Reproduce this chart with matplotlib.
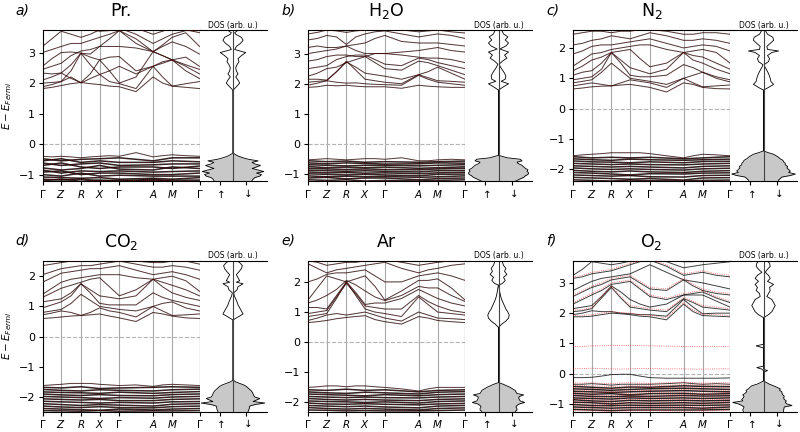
import numpy as np
import matplotlib
matplotlib.use('Agg')
import matplotlib.pyplot as plt

# k-path (high symmetry points) and finer sampling used for the upper bands
KPATH = [0.0, 0.56, 1.15, 1.71, 2.30, 3.31, 3.88, 4.70]
KLABELS = [r'$\Gamma$', '$Z$', '$R$', '$X$', r'$\Gamma$', '$A$', '$M$', r'$\Gamma$']
KFINE = [0.0, 0.28, 0.56, 0.855, 1.15, 1.43, 1.71, 2.005, 2.30, 2.80, 3.31, 3.595, 3.88, 4.29, 4.70]

# ---------------- a) Pr.
a_upper = [
    [1.82, 1.86, 1.92, 1.98, 2.02, 1.98, 1.95, 1.90, 1.88, 1.72, 2.20, 2.00, 1.90, 1.86, 1.82],
    [1.88, 1.95, 2.05, 2.40, 2.98, 2.60, 2.28, 2.05, 1.98, 1.82, 2.55, 2.20, 1.90, 1.98, 2.05],
    [2.00, 2.02, 2.05, 2.20, 2.00, 2.15, 2.28, 2.40, 2.55, 2.30, 2.55, 2.70, 2.76, 2.40, 2.15],
    [2.10, 2.20, 2.33, 2.15, 2.02, 2.30, 2.76, 2.85, 2.87, 2.40, 2.55, 2.65, 2.76, 2.55, 2.30],
    [2.33, 2.30, 2.33, 2.60, 2.98, 2.85, 2.76, 2.40, 2.00, 2.20, 3.03, 2.90, 2.76, 2.60, 2.45],
    [2.45, 2.55, 2.65, 2.90, 3.05, 3.10, 3.20, 3.45, 3.72, 3.30, 3.03, 2.90, 2.76, 2.85, 2.55],
    [2.55, 2.80, 3.00, 3.02, 2.98, 2.95, 3.20, 3.20, 3.20, 3.15, 3.03, 3.20, 3.35, 3.20, 2.95],
    [3.00, 3.10, 3.20, 3.30, 3.30, 3.40, 3.50, 3.60, 3.72, 3.45, 3.03, 3.25, 3.50, 3.65, 3.20],
    [3.20, 3.45, 3.70, 3.60, 3.50, 3.60, 3.75, 3.80, 3.80, 3.60, 3.30, 3.45, 3.60, 3.72, 3.72],
    [3.72, 3.75, 3.80, 3.80, 3.78, 3.75, 3.70, 3.72, 3.80, 3.80, 3.60, 3.70, 3.80, 3.75, 3.65],
    [-0.40, -0.42, -0.40, -0.42, -0.45, -0.42, -0.40, -0.38, -0.40, -0.28, -0.42, -0.38, -0.35, -0.38, -0.40],
]
a_lower = [
    [-0.48, -0.55, -0.50, -0.48, -0.45, -0.55, -0.45, -0.45],
    [-0.55, -0.48, -0.60, -0.55, -0.60, -0.60, -0.55, -0.58],
    [-0.62, -0.70, -0.65, -0.62, -0.70, -0.68, -0.65, -0.65],
    [-0.70, -0.62, -0.75, -0.80, -0.75, -0.75, -0.80, -0.72],
    [-0.78, -0.85, -0.80, -0.70, -0.82, -0.85, -0.75, -0.80],
    [-0.85, -0.95, -0.88, -0.90, -0.88, -0.92, -0.90, -0.88],
    [-0.92, -0.88, -1.00, -0.95, -0.95, -1.00, -1.00, -0.95],
    [-1.00, -1.05, -0.95, -1.05, -1.02, -1.05, -1.05, -1.05],
    [-1.08, -1.10, -1.12, -1.10, -1.15, -1.12, -1.15, -1.10],
    [-1.15, -1.18, -1.15, -1.20, -1.18, -1.20, -1.18, -1.18],
    [-1.20, -1.15, -1.22, -1.18, -1.22, -1.15, -1.22, -1.22],
]
a_dos_e = [-1.22, -1.15, -1.10, -1.05, -1.00, -0.95, -0.90, -0.85, -0.80, -0.75, -0.70, -0.65, -0.60, -0.55,
           -0.50, -0.45, -0.40, -0.35, -0.29, 1.74, 1.80, 1.90, 2.00, 2.10, 2.20, 2.30, 2.40, 2.50, 2.60, 2.70,
           2.80, 2.90, 3.00, 3.10, 3.20, 3.30, 3.40, 3.50, 3.60, 3.65, 3.73]
a_dos = [0.55, 0.60, 0.65, 0.80, 0.85, 0.70, 0.92, 0.75, 0.57, 0.70, 0.82, 0.65, 0.57, 0.75,
         0.47, 0.30, 0.17, 0.08, 0.0, 0.0, 0.03, 0.12, 0.20, 0.15, 0.08, 0.15, 0.10, 0.08, 0.12, 0.18,
         0.15, 0.25, 0.38, 0.05, 0.10, 0.22, 0.30, 0.25, 0.08, 0.05, 0.15]

# ---------------- b) H2O
b_upper = [
    [1.88, 1.90, 1.95, 1.93, 1.95, 1.92, 1.90, 1.90, 1.90, 1.85, 1.95, 1.92, 1.90, 1.88, 1.88],
    [1.95, 2.02, 2.10, 2.05, 2.02, 2.03, 2.00, 1.98, 1.97, 1.95, 2.28, 2.15, 2.05, 2.00, 1.95],
    [2.05, 2.08, 2.10, 2.40, 2.75, 2.45, 2.15, 2.10, 2.05, 2.00, 2.30, 2.20, 2.10, 2.08, 2.05],
    [2.15, 2.15, 2.12, 2.40, 2.72, 2.55, 2.35, 2.30, 2.25, 2.15, 2.30, 2.40, 2.55, 2.35, 2.15],
    [2.25, 2.35, 2.50, 2.55, 2.70, 2.80, 2.90, 2.70, 2.50, 2.45, 2.75, 2.70, 2.60, 2.45, 2.30],
    [2.50, 2.55, 2.60, 2.80, 2.90, 2.95, 2.95, 2.80, 2.65, 2.60, 2.85, 2.80, 2.70, 2.60, 2.50],
    [2.75, 2.80, 2.90, 2.95, 2.95, 2.90, 2.90, 3.00, 3.00, 2.95, 2.88, 2.85, 2.85, 2.80, 2.70],
    [3.00, 3.05, 3.10, 3.15, 3.25, 3.10, 3.00, 3.00, 3.00, 3.05, 3.10, 3.15, 3.20, 3.10, 3.05],
    [3.20, 3.25, 3.20, 3.20, 3.25, 3.30, 3.35, 3.50, 3.60, 3.40, 3.35, 3.35, 3.35, 3.30, 3.25],
    [3.45, 3.50, 3.60, 3.55, 3.30, 3.55, 3.65, 3.72, 3.75, 3.65, 3.55, 3.60, 3.65, 3.60, 3.50],
    [3.65, 3.70, 3.78, 3.75, 3.70, 3.75, 3.78, 3.80, 3.80, 3.78, 3.72, 3.75, 3.78, 3.72, 3.68],
    [-0.52, -0.50, -0.48, -0.50, -0.52, -0.50, -0.48, -0.48, -0.50, -0.45, -0.55, -0.55, -0.52, -0.50, -0.52],
]
b_lower = [
    [-0.55, -0.58, -0.56, -0.60, -0.58, -0.60, -0.58, -0.56],
    [-0.62, -0.65, -0.62, -0.64, -0.66, -0.65, -0.62, -0.63],
    [-0.68, -0.70, -0.72, -0.70, -0.70, -0.72, -0.70, -0.68],
    [-0.74, -0.78, -0.76, -0.78, -0.76, -0.80, -0.78, -0.75],
    [-0.80, -0.82, -0.84, -0.82, -0.84, -0.85, -0.82, -0.80],
    [-0.86, -0.88, -0.90, -0.88, -0.90, -0.92, -0.88, -0.87],
    [-0.92, -0.95, -0.94, -0.96, -0.95, -0.98, -0.95, -0.93],
    [-0.98, -1.00, -1.02, -1.00, -1.02, -1.05, -1.00, -0.99],
    [-1.05, -1.08, -1.06, -1.08, -1.07, -1.10, -1.08, -1.05],
    [-1.12, -1.10, -1.15, -1.12, -1.12, -1.18, -1.14, -1.12],
    [-1.18, -1.20, -1.18, -1.22, -1.20, -1.22, -1.20, -1.18],
]
b_dos_e = [-1.23, -1.15, -1.10, -1.05, -1.00, -0.95, -0.90, -0.85, -0.80, -0.75, -0.70, -0.65, -0.60, -0.55,
           -0.50, -0.45, -0.40, -0.37, 1.79, 1.90, 2.00, 2.08, 2.15, 2.25, 2.35, 2.45, 2.55, 2.65, 2.75,
           2.85, 2.95, 3.05, 3.15, 3.25, 3.35, 3.45, 3.55, 3.65, 3.77]
b_dos = [0.50, 0.65, 0.75, 0.80, 0.88, 0.90, 0.85, 0.88, 0.80, 0.75, 0.70, 0.60, 0.55, 0.70,
         0.65, 0.25, 0.10, 0.0, 0.0, 0.15, 0.30, 0.08, 0.20, 0.22, 0.18, 0.12, 0.06, 0.02, 0.12,
         0.25, 0.18, 0.30, 0.04, 0.22, 0.30, 0.20, 0.28, 0.15, 0.10]

# ---------------- c) N2
c_upper = [
    [0.65, 0.68, 0.72, 0.74, 0.75, 0.78, 0.80, 0.75, 0.70, 0.55, 0.85, 0.80, 0.70, 0.66, 0.65],
    [0.75, 0.80, 0.85, 0.80, 0.75, 0.85, 0.95, 0.90, 0.85, 0.70, 1.00, 0.85, 0.72, 0.75, 0.78],
    [0.85, 0.90, 0.95, 1.20, 1.50, 1.25, 1.00, 0.95, 0.90, 0.80, 1.00, 1.10, 1.20, 1.00, 0.88],
    [0.95, 1.00, 1.05, 1.30, 1.85, 1.50, 1.10, 1.05, 1.05, 1.10, 1.45, 1.35, 1.20, 1.05, 0.95],
    [1.10, 1.20, 1.25, 1.50, 1.85, 1.60, 1.35, 1.25, 1.15, 1.30, 1.85, 1.60, 1.50, 1.30, 1.15],
    [1.25, 1.40, 1.60, 1.70, 1.85, 1.90, 1.95, 1.65, 1.38, 1.50, 1.85, 1.75, 1.70, 1.50, 1.30],
    [1.40, 1.60, 1.80, 1.85, 1.95, 2.00, 2.05, 2.10, 2.10, 1.95, 1.85, 1.90, 1.95, 1.85, 1.50],
    [1.80, 1.90, 2.05, 2.10, 2.10, 2.15, 2.20, 2.25, 2.30, 2.15, 2.00, 2.05, 2.10, 2.05, 1.90],
    [2.10, 2.15, 2.25, 2.30, 2.40, 2.35, 2.30, 2.40, 2.50, 2.40, 2.25, 2.25, 2.30, 2.25, 2.15],
    [2.45, 2.50, 2.55, 2.55, 2.50, 2.55, 2.55, 2.60, 2.60, 2.55, 2.45, 2.45, 2.50, 2.50, 2.45],
    [-1.55, -1.52, -1.50, -1.48, -1.45, -1.45, -1.45, -1.45, -1.48, -1.55, -1.62, -1.55, -1.50, -1.52, -1.55],
]
c_lower = [
    [-1.58, -1.62, -1.60, -1.62, -1.60, -1.65, -1.62, -1.58],
    [-1.65, -1.68, -1.70, -1.66, -1.68, -1.70, -1.68, -1.66],
    [-1.72, -1.75, -1.76, -1.78, -1.75, -1.78, -1.74, -1.73],
    [-1.80, -1.82, -1.84, -1.82, -1.84, -1.85, -1.82, -1.80],
    [-1.88, -1.90, -1.92, -1.90, -1.92, -1.95, -1.90, -1.88],
    [-1.95, -1.98, -2.00, -1.98, -2.00, -2.02, -1.98, -1.96],
    [-2.03, -2.06, -2.08, -2.05, -2.08, -2.10, -2.06, -2.04],
    [-2.10, -2.12, -2.15, -2.18, -2.14, -2.15, -2.12, -2.11],
    [-2.18, -2.20, -2.22, -2.20, -2.24, -2.25, -2.20, -2.19],
    [-2.26, -2.28, -2.30, -2.32, -2.30, -2.35, -2.28, -2.27],
    [-2.34, -2.36, -2.38, -2.35, -2.37, -2.38, -2.36, -2.35],
]
c_dos_e = [-2.39, -2.35, -2.30, -2.25, -2.20, -2.15, -2.10, -2.05, -2.00, -1.95, -1.90, -1.85, -1.80, -1.75,
           -1.70, -1.65, -1.60, -1.55, -1.50, -1.45, -1.39, 0.61, 0.70, 0.80, 0.90, 1.00, 1.10, 1.20, 1.30,
           1.40, 1.45, 1.55, 1.65, 1.75, 1.85, 1.90, 1.95, 2.05, 2.15, 2.25, 2.35, 2.45, 2.58]
c_dos = [0.45, 0.45, 0.50, 0.55, 0.80, 0.95, 0.75, 0.80, 0.75, 0.70, 0.72, 0.65, 0.65, 0.60,
         0.58, 0.50, 0.45, 0.38, 0.30, 0.15, 0.0, 0.0, 0.15, 0.30, 0.22, 0.20, 0.17, 0.13, 0.08,
         0.03, 0.02, 0.15, 0.18, 0.12, 0.25, 0.45, 0.12, 0.10, 0.20, 0.30, 0.28, 0.12, 0.05]

# ---------------- d) CO2
d_upper = [
    [0.60, 0.62, 0.65, 0.68, 0.70, 0.72, 0.75, 0.68, 0.62, 0.50, 0.80, 0.75, 0.68, 0.62, 0.60],
    [0.72, 0.78, 0.85, 0.80, 0.70, 0.80, 0.95, 0.85, 0.80, 0.65, 1.00, 0.85, 0.70, 0.72, 0.75],
    [0.80, 0.85, 0.90, 1.10, 1.40, 1.20, 1.00, 0.95, 0.90, 0.85, 1.00, 1.10, 1.15, 0.95, 0.85],
    [0.95, 1.05, 1.15, 1.35, 1.75, 1.45, 1.10, 1.05, 1.05, 1.05, 1.45, 1.30, 1.20, 1.10, 1.00],
    [1.15, 1.20, 1.25, 1.45, 1.75, 1.55, 1.35, 1.30, 1.25, 1.35, 1.90, 1.65, 1.45, 1.30, 1.20],
    [1.30, 1.45, 1.60, 1.70, 1.80, 1.90, 1.95, 1.65, 1.35, 1.55, 1.90, 1.80, 1.70, 1.55, 1.35],
    [1.40, 1.60, 1.80, 1.90, 1.95, 2.00, 2.05, 2.05, 2.05, 1.95, 1.90, 1.95, 2.00, 1.85, 1.50],
    [1.80, 1.95, 2.10, 2.15, 2.20, 2.25, 2.25, 2.30, 2.35, 2.20, 2.05, 2.10, 2.15, 2.05, 1.90],
    [2.05, 2.15, 2.25, 2.30, 2.35, 2.35, 2.40, 2.45, 2.50, 2.40, 2.30, 2.30, 2.35, 2.30, 2.20],
    [2.35, 2.40, 2.45, 2.50, 2.50, 2.55, 2.55, 2.55, 2.55, 2.50, 2.45, 2.45, 2.50, 2.50, 2.40],
    [-1.62, -1.60, -1.58, -1.55, -1.55, -1.55, -1.58, -1.60, -1.62, -1.60, -1.65, -1.60, -1.58, -1.60, -1.62],
]
d_lower = [
    [-1.68, -1.70, -1.66, -1.72, -1.70, -1.68, -1.66, -1.68],
    [-1.75, -1.78, -1.80, -1.76, -1.78, -1.80, -1.76, -1.74],
    [-1.83, -1.85, -1.86, -1.88, -1.84, -1.88, -1.85, -1.82],
    [-1.90, -1.93, -1.95, -1.92, -1.95, -1.96, -1.92, -1.90],
    [-1.98, -2.00, -2.02, -2.05, -2.02, -2.04, -2.00, -1.98],
    [-2.06, -2.08, -2.10, -2.08, -2.12, -2.12, -2.08, -2.06],
    [-2.14, -2.16, -2.18, -2.20, -2.18, -2.20, -2.16, -2.15],
    [-2.22, -2.25, -2.28, -2.25, -2.27, -2.30, -2.24, -2.22],
    [-2.30, -2.33, -2.35, -2.32, -2.35, -2.36, -2.32, -2.30],
    [-2.38, -2.40, -2.42, -2.44, -2.40, -2.43, -2.40, -2.38],
    [-2.45, -2.46, -2.47, -2.45, -2.47, -2.46, -2.46, -2.45],
]
d_dos_e = [-2.48, -2.40, -2.30, -2.25, -2.20, -2.15, -2.10, -2.05, -2.00, -1.95, -1.90, -1.85, -1.80, -1.75,
           -1.70, -1.65, -1.60, -1.55, -1.50, -1.44, 0.55, 0.65, 0.75, 0.85, 0.95, 1.05, 1.15, 1.25, 1.35,
           1.45, 1.55, 1.65, 1.75, 1.80, 1.85, 1.95, 2.05, 2.15, 2.25, 2.35, 2.45, 2.52]
d_dos = [0.45, 0.48, 0.50, 0.65, 0.95, 0.60, 0.70, 0.80, 0.65, 0.62, 0.60, 0.58, 0.55, 0.50,
         0.45, 0.40, 0.32, 0.20, 0.08, 0.0, 0.0, 0.15, 0.30, 0.25, 0.20, 0.15, 0.12, 0.08, 0.04,
         0.02, 0.12, 0.15, 0.30, 0.10, 0.20, 0.15, 0.10, 0.18, 0.25, 0.28, 0.20, 0.10]

# ---------------- e) Ar
e_upper = [
    [0.65, 0.68, 0.72, 0.78, 0.82, 0.85, 0.88, 0.75, 0.68, 0.60, 0.85, 0.80, 0.72, 0.68, 0.65],
    [0.72, 0.80, 0.90, 0.95, 0.90, 0.95, 1.00, 0.90, 0.80, 0.70, 1.00, 0.90, 0.80, 0.78, 0.75],
    [0.85, 0.90, 0.95, 1.45, 2.00, 1.55, 1.10, 1.00, 0.95, 0.85, 1.50, 1.25, 1.00, 0.95, 0.90],
    [0.95, 1.00, 1.05, 1.50, 1.95, 1.60, 1.20, 1.15, 1.10, 1.10, 1.55, 1.35, 1.20, 1.05, 0.98],
    [1.15, 1.15, 1.10, 1.55, 2.00, 1.65, 1.25, 1.30, 1.30, 1.45, 1.75, 1.60, 1.45, 1.30, 1.20],
    [1.30, 1.40, 1.55, 1.75, 2.05, 1.90, 1.70, 1.50, 1.38, 1.55, 1.85, 1.80, 1.80, 1.55, 1.35],
    [1.40, 1.80, 2.20, 2.10, 2.00, 2.10, 2.20, 1.85, 1.40, 1.70, 2.05, 2.05, 2.10, 1.80, 1.40],
    [2.00, 2.10, 2.25, 2.30, 2.30, 2.35, 2.40, 2.20, 2.00, 2.00, 2.20, 2.25, 2.30, 2.20, 2.05],
    [2.60, 2.45, 2.30, 2.40, 2.45, 2.50, 2.55, 2.60, 2.65, 2.45, 2.30, 2.40, 2.45, 2.55, 2.60],
    [2.70, 2.65, 2.55, 2.60, 2.65, 2.65, 2.70, 2.75, 2.75, 2.65, 2.55, 2.60, 2.65, 2.70, 2.70],
    [-1.50, -1.48, -1.45, -1.45, -1.48, -1.45, -1.45, -1.48, -1.50, -1.55, -1.62, -1.55, -1.50, -1.50, -1.50],
]
e_lower = [
    [-1.58, -1.60, -1.56, -1.60, -1.58, -1.65, -1.60, -1.58],
    [-1.65, -1.68, -1.70, -1.66, -1.68, -1.72, -1.66, -1.64],
    [-1.72, -1.74, -1.76, -1.78, -1.74, -1.78, -1.74, -1.72],
    [-1.80, -1.82, -1.84, -1.82, -1.84, -1.85, -1.82, -1.80],
    [-1.87, -1.90, -1.92, -1.90, -1.92, -1.94, -1.90, -1.88],
    [-1.95, -1.97, -1.98, -2.00, -1.98, -2.02, -1.97, -1.95],
    [-2.02, -2.05, -2.06, -2.04, -2.06, -2.08, -2.05, -2.03],
    [-2.10, -2.12, -2.14, -2.12, -2.15, -2.18, -2.12, -2.10],
    [-2.17, -2.20, -2.22, -2.20, -2.22, -2.25, -2.20, -2.18],
    [-2.25, -2.26, -2.28, -2.27, -2.28, -2.28, -2.27, -2.25],
]
e_dos_e = [-2.30, -2.25, -2.20, -2.15, -2.10, -2.05, -2.00, -1.95, -1.90, -1.85, -1.80, -1.75, -1.70, -1.65,
           -1.60, -1.55, -1.50, -1.45, -1.40, -1.34, 0.49, 0.60, 0.70, 0.80, 0.90, 1.00, 1.10, 1.20, 1.30,
           1.40, 1.50, 1.60, 1.70, 1.80, 1.89, 1.95, 2.05, 2.15, 2.25, 2.35, 2.45, 2.55, 2.71]
e_dos = [0.50, 0.55, 0.55, 0.52, 0.55, 0.62, 0.78, 0.65, 0.62, 0.60, 0.62, 0.75, 0.55, 0.52,
         0.50, 0.42, 0.35, 0.25, 0.15, 0.0, 0.0, 0.10, 0.22, 0.30, 0.32, 0.28, 0.22, 0.18, 0.14,
         0.10, 0.07, 0.05, 0.03, 0.02, 0.0, 0.12, 0.20, 0.15, 0.25, 0.18, 0.22, 0.15, 0.10]

# ---------------- f) O2 (spin up / spin down differ)
f_upper = [
    [1.88, 1.88, 1.90, 1.95, 2.00, 1.98, 1.95, 1.90, 1.88, 1.78, 2.30, 2.05, 1.92, 1.90, 1.88],
    [1.95, 2.00, 2.08, 2.05, 2.05, 2.00, 1.98, 1.95, 1.95, 1.90, 2.45, 2.20, 1.98, 2.00, 2.00],
    [2.05, 2.08, 2.15, 2.50, 2.85, 2.50, 2.20, 2.15, 2.10, 2.05, 2.48, 2.35, 2.20, 2.15, 2.10],
    [2.15, 2.20, 2.25, 2.55, 2.90, 2.70, 2.45, 2.30, 2.20, 2.30, 2.60, 2.60, 2.60, 2.40, 2.20],
    [2.30, 2.45, 2.60, 2.75, 2.95, 3.00, 3.05, 2.80, 2.55, 2.45, 2.60, 2.65, 2.70, 2.50, 2.35],
    [2.55, 2.70, 2.85, 2.95, 3.10, 3.15, 3.20, 3.00, 2.80, 2.75, 3.10, 2.90, 2.75, 2.65, 2.60],
    [2.75, 2.90, 3.05, 3.15, 3.20, 3.25, 3.30, 3.45, 3.60, 3.35, 3.10, 3.05, 3.00, 2.90, 2.80],
    [3.15, 3.20, 3.30, 3.35, 3.40, 3.50, 3.60, 3.70, 3.75, 3.55, 3.25, 3.30, 3.35, 3.25, 3.20],
    [3.25, 3.45, 3.70, 3.65, 3.60, 3.65, 3.72, 3.75, 3.78, 3.70, 3.50, 3.55, 3.60, 3.65, 3.70],
    [3.70, 3.75, 3.80, 3.75, 3.70, 3.72, 3.75, 3.78, 3.80, 3.78, 3.70, 3.70, 3.75, 3.78, 3.75],
    [-0.13, -0.13, -0.12, -0.08, -0.03, -0.02, -0.02, -0.08, -0.13, -0.15, -0.15, -0.15, -0.15, -0.15, -0.14],
    [-0.35, -0.35, -0.33, -0.35, -0.38, -0.35, -0.35, -0.35, -0.35, -0.33, -0.30, -0.33, -0.35, -0.33, -0.35],
]
f_upper_dn = [
    [0.90, 0.90, 0.92, 0.92, 0.93, 0.93, 0.94, 0.93, 0.92, 0.91, 0.90, 0.90, 0.89, 0.90, 0.90],
    [0.16, 0.17, 0.18, 0.17, 0.16, 0.15, 0.16, 0.17, 0.17, 0.16, 0.16, 0.15, 0.15, 0.16, 0.16],
    [1.92, 1.93, 1.95, 2.00, 2.05, 2.02, 2.00, 1.95, 1.93, 1.85, 2.35, 2.10, 1.97, 1.95, 1.92],
    [2.10, 2.12, 2.18, 2.55, 2.90, 2.55, 2.25, 2.20, 2.15, 2.10, 2.52, 2.40, 2.25, 2.20, 2.15],
    [2.35, 2.50, 2.65, 2.80, 3.00, 3.05, 3.10, 2.85, 2.60, 2.50, 2.65, 2.70, 2.75, 2.55, 2.40],
    [2.60, 2.75, 2.90, 3.00, 3.15, 3.20, 3.25, 3.05, 2.85, 2.80, 3.15, 2.95, 2.80, 2.70, 2.65],
    [3.20, 3.25, 3.35, 3.40, 3.45, 3.55, 3.65, 3.72, 3.78, 3.60, 3.30, 3.35, 3.40, 3.30, 3.25],
    [-0.30, -0.31, -0.30, -0.32, -0.33, -0.31, -0.30, -0.31, -0.32, -0.30, -0.28, -0.30, -0.31, -0.30, -0.30],
]
f_lower = [
    [-0.42, -0.45, -0.48, -0.44, -0.45, -0.40, -0.42, -0.43],
    [-0.50, -0.52, -0.55, -0.52, -0.50, -0.48, -0.50, -0.52],
    [-0.58, -0.60, -0.62, -0.60, -0.58, -0.56, -0.58, -0.60],
    [-0.65, -0.68, -0.66, -0.70, -0.66, -0.65, -0.68, -0.66],
    [-0.72, -0.75, -0.76, -0.74, -0.75, -0.72, -0.74, -0.73],
    [-0.80, -0.82, -0.84, -0.80, -0.82, -0.80, -0.82, -0.80],
    [-0.86, -0.90, -0.92, -0.88, -0.90, -0.88, -0.90, -0.88],
    [-0.94, -0.96, -1.00, -0.96, -0.98, -0.96, -0.98, -0.95],
    [-1.02, -1.05, -1.06, -1.04, -1.05, -1.04, -1.05, -1.03],
    [-1.10, -1.12, -1.14, -1.12, -1.12, -1.12, -1.14, -1.10],
    [-1.18, -1.20, -1.22, -1.20, -1.20, -1.20, -1.20, -1.18],
]
f_lower_dn = [
    [-0.38, -0.40, -0.42, -0.40, -0.40, -0.36, -0.38, -0.38],
    [-0.46, -0.48, -0.50, -0.47, -0.46, -0.44, -0.46, -0.47],
    [-0.54, -0.56, -0.58, -0.56, -0.55, -0.52, -0.54, -0.55],
    [-0.62, -0.64, -0.62, -0.66, -0.62, -0.61, -0.64, -0.62],
    [-0.69, -0.71, -0.72, -0.70, -0.71, -0.68, -0.70, -0.69],
    [-0.77, -0.78, -0.80, -0.77, -0.78, -0.76, -0.78, -0.77],
    [-0.84, -0.86, -0.88, -0.85, -0.86, -0.84, -0.86, -0.85],
    [-0.91, -0.93, -0.96, -0.93, -0.94, -0.92, -0.94, -0.92],
    [-0.98, -1.01, -1.02, -1.00, -1.01, -1.00, -1.01, -0.99],
    [-1.06, -1.08, -1.10, -1.08, -1.08, -1.08, -1.10, -1.06],
    [-1.14, -1.16, -1.18, -1.16, -1.16, -1.16, -1.16, -1.14],
    [-1.22, -1.23, -1.24, -1.23, -1.22, -1.24, -1.23, -1.22],
]
f_dos_e = [-1.25, -1.20, -1.10, -1.05, -1.00, -0.95, -0.90, -0.85, -0.80, -0.75, -0.70, -0.65, -0.60, -0.55,
           -0.50, -0.45, -0.40, -0.35, -0.30, -0.24, 0.05, 0.10, 0.15, 0.20, 0.25, 0.85, 0.92, 0.97, 1.02,
           1.85, 1.95, 2.05, 2.15, 2.25, 2.35, 2.45, 2.55, 2.65, 2.75, 2.85, 2.95, 3.05, 3.15, 3.25, 3.35,
           3.45, 3.55, 3.65, 3.74]
f_dos_up = [0.60, 0.62, 0.58, 0.65, 0.75, 0.92, 0.62, 0.65, 0.60, 0.58, 0.62, 0.55, 0.50, 0.52,
            0.45, 0.40, 0.35, 0.20, 0.10, 0.0, 0.0, 0.0, 0.05, 0.20, 0.0, 0.0, 0.22, 0.0, 0.0,
            0.0, 0.15, 0.25, 0.30, 0.35, 0.30, 0.25, 0.10, 0.12, 0.22, 0.18, 0.25, 0.15, 0.25, 0.18, 0.05,
            0.15, 0.22, 0.20, 0.12]
f_dos_dn = [0.60, 0.60, 0.62, 0.85, 0.70, 0.65, 0.68, 0.62, 0.60, 0.62, 0.58, 0.55, 0.55, 0.48,
            0.50, 0.40, 0.30, 0.18, 0.10, 0.0, 0.0, 0.12, 0.0, 0.0, 0.0, 0.0, 0.0, 0.0, 0.0,
            0.0, 0.15, 0.25, 0.30, 0.35, 0.30, 0.25, 0.10, 0.15, 0.20, 0.18, 0.30, 0.12, 0.20, 0.15, 0.05,
            0.12, 0.20, 0.18, 0.10]

panels = [
    dict(tag='a)', title='Pr.', ylim=(-1.22, 3.73), yticks=[-1, 0, 1, 2, 3], polarized=False,
         up=(a_upper, a_lower), dn=(a_upper, a_lower), dos=(a_dos_e, a_dos, a_dos)),
    dict(tag='b)', title='H$_2$O', ylim=(-1.23, 3.77), yticks=[-1, 0, 1, 2, 3], polarized=False,
         up=(b_upper, b_lower), dn=(b_upper, b_lower), dos=(b_dos_e, b_dos, b_dos)),
    dict(tag='c)', title='N$_2$', ylim=(-2.39, 2.58), yticks=[-2, -1, 0, 1, 2], polarized=False,
         up=(c_upper, c_lower), dn=(c_upper, c_lower), dos=(c_dos_e, c_dos, c_dos)),
    dict(tag='d)', title='CO$_2$', ylim=(-2.48, 2.52), yticks=[-2, -1, 0, 1, 2], polarized=False,
         up=(d_upper, d_lower), dn=(d_upper, d_lower), dos=(d_dos_e, d_dos, d_dos)),
    dict(tag='e)', title='Ar', ylim=(-2.30, 2.71), yticks=[-2, -1, 0, 1, 2], polarized=False,
         up=(e_upper, e_lower), dn=(e_upper, e_lower), dos=(e_dos_e, e_dos, e_dos)),
    dict(tag='f)', title='O$_2$', ylim=(-1.25, 3.74), yticks=[-1, 0, 1, 2, 3], polarized=True,
         up=(f_upper, f_lower), dn=(f_upper_dn, f_lower_dn), dos=(f_dos_e, f_dos_up, f_dos_dn)),
]

W, H = 800.0, 432.0
col_x = [42.5, 308, 573]
row_y = [250.7, 20.5]
row_h = [151.0, 151.0]
band_w, dos_w = 157, 67

fig = plt.figure(figsize=(8, 4.32), dpi=100)

for i, p in enumerate(panels):
    r, c = divmod(i, 3)
    x0, y0, h = col_x[c], row_y[r], row_h[r]
    ax = fig.add_axes([x0 / W, y0 / H, band_w / W, h / H])
    dax = fig.add_axes([(x0 + band_w) / W, y0 / H, dos_w / W, h / H])

    # band structure
    for k in KPATH[1:-1]:
        ax.axvline(k, color='#a8a8a8', lw=0.8, zorder=1)
    ax.axhline(0, color='#b4b4b4', ls='--', lw=0.8, zorder=1)
    upper, lower = p['up']
    for band in upper:
        ax.plot(KFINE, band, color='k', lw=0.7, alpha=0.75, zorder=2)
    for band in lower:
        ax.plot(KPATH, band, color='k', lw=1.1, alpha=0.85, zorder=2)
    red_alpha = 0.7 if p['polarized'] else 0.35
    upper, lower = p['dn']
    for band in upper:
        ax.plot(KFINE, band, color='red', ls=':', lw=0.6, alpha=red_alpha, zorder=3)
    for band in lower:
        ax.plot(KPATH, band, color='red', ls=':', lw=0.6, alpha=red_alpha, zorder=3)
    ax.set_xlim(KPATH[0], KPATH[-1])
    ax.set_ylim(p['ylim'])
    ax.set_xticks(KPATH, KLABELS)
    ax.set_yticks(p['yticks'])
    ax.tick_params(axis='x', labelsize=7.5, length=3, pad=1.5)
    ax.tick_params(axis='y', labelsize=8, length=3, pad=2.5)
    ax.set_title(p['title'], fontsize=12.5, pad=10)
    ax.text(-0.17, 1.13, p['tag'], transform=ax.transAxes, style='italic', fontsize=10, va='center')
    if c == 0:
        ax.set_ylabel('$E - E_{Fermi}$', fontsize=7.5, labelpad=3)

    # density of states
    e, up, dn = (np.array(v) for v in p['dos'])
    dax.fill_betweenx(e, -up, dn, where=e <= 0, color='#c8c8c8', lw=0)
    dax.plot(-up, e, color='k', lw=0.6)
    dax.plot(dn, e, color='k', lw=0.6)
    dax.axvline(0, color='#444444', lw=0.8)
    dax.set_xlim(-1, 1)
    dax.set_ylim(p['ylim'])
    dax.set_yticks([])
    dax.set_xticks([-0.4, 0.4], [r'$\uparrow$', r'$\downarrow$'])
    dax.tick_params(labelsize=7.5, length=3, pad=1.5)
    dax.spines['right'].set_visible(False)
    dax.spines['left'].set_visible(False)
    dax.set_title('DOS (arb. u.)', fontsize=5.5, pad=2)

fig.savefig('out.png', dpi=100)
